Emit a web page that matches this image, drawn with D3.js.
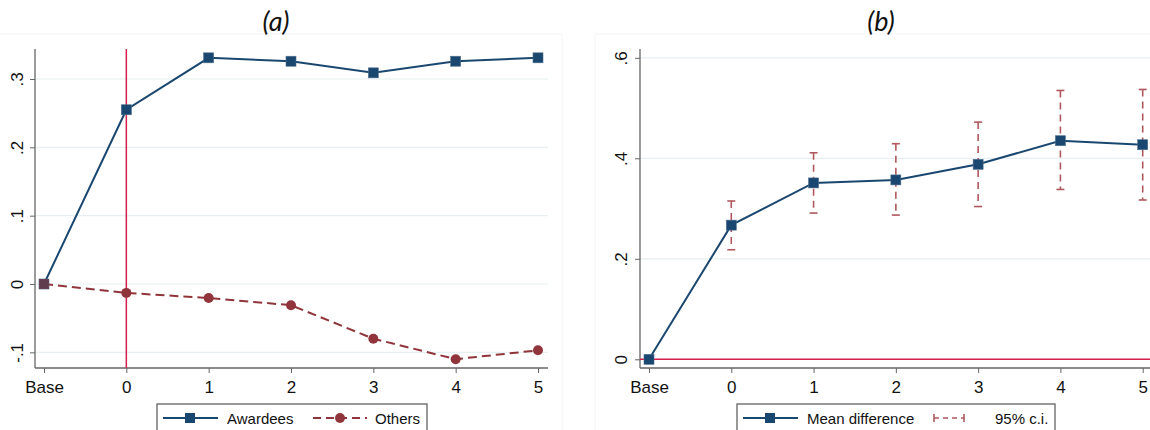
<!DOCTYPE html>
<html>
<head>
<meta charset="utf-8">
<script src="https://cdn.jsdelivr.net/npm/d3@7"></script>
<style>
  html, body { margin: 0; padding: 0; background: #fff; }
  svg { display: block; }
  text { font-family: "Liberation Sans", Arial, sans-serif; fill: #111; }
  text.title { font-family: "Lato", "Open Sans", sans-serif; font-style: italic; font-weight: 400; }
</style>
</head>
<body>
<svg id="chart" width="1150" height="430"></svg>
<script>
// Periods on the horizontal axis (shared by both panels)
const periods = ["Base", "0", "1", "2", "3", "4", "5"];

// Panel (a): outcome for awardees and others relative to base
const awardees = [0, 0.255, 0.331, 0.326, 0.309, 0.326, 0.331];
const others   = [0, -0.013, -0.0205, -0.031, -0.080, -0.110, -0.097];
const ticksA   = [-0.1, 0, 0.1, 0.2, 0.3];
const tickLabelsA = ["-.1", "0", ".1", ".2", ".3"];

// Panel (b): mean difference with 95% confidence interval
const meanDiff = [0, 0.267, 0.351, 0.357, 0.388, 0.435, 0.427];
const ciLower  = [null, 0.218, 0.291, 0.287, 0.304, 0.338, 0.317];
const ciUpper  = [null, 0.315, 0.411, 0.429, 0.472, 0.535, 0.537];
const ticksB   = [0, 0.2, 0.4, 0.6];
const tickLabelsB = ["0", ".2", ".4", ".6"];

const NAVY = "#1a476f", MAROON = "#90353b", CI = "#b0585e", REF = "#d41f4c";
const GRID = "#e6eff1", AXIS = "#666";

const svg = d3.select("#chart");

// faint graph-region frames
svg.append("rect").attr("x", -1).attr("y", 34).attr("width", 563).attr("height", 400)
  .attr("fill", "none").attr("stroke", "#f3f6f8");
svg.append("rect").attr("x", 595).attr("y", 34).attr("width", 560).attr("height", 400)
  .attr("fill", "none").attr("stroke", "#f3f6f8");

function panel(cfg) {
  const g = svg.append("g");
  const x = d3.scalePoint().domain(periods).range(cfg.xRange);
  const y = d3.scaleLinear().domain(cfg.yDomain).range([368, 49]);

  // gridlines
  g.selectAll(".grid").data(cfg.ticks).join("line")
    .attr("x1", cfg.axisX).attr("x2", cfg.axisRight)
    .attr("y1", d => y(d)).attr("y2", d => y(d))
    .attr("stroke", GRID).attr("stroke-width", 1.2);

  // y axis
  const yAxis = d3.axisLeft(y).tickValues(cfg.ticks)
    .tickFormat((d, i) => cfg.tickLabels[i]).tickSize(5);
  const ya = g.append("g").attr("transform", `translate(${cfg.axisX},0)`).call(yAxis);
  ya.select(".domain").remove();
  ya.selectAll(".tick line").attr("stroke", AXIS);
  ya.selectAll(".tick text")
    .style("font-size", "17px")
    .attr("text-anchor", "middle").attr("dy", null)
    .attr("transform", "rotate(-90)")
    .attr("x", 0).attr("y", -cfg.labelOffset)
    .attr("dominant-baseline", "middle");
  g.append("line").attr("x1", cfg.axisX).attr("x2", cfg.axisX).attr("y1", 49).attr("y2", 368)
    .attr("stroke", AXIS).attr("stroke-width", 1.3);

  // x axis
  const xAxis = d3.axisBottom(x).tickSize(5).tickPadding(8);
  const xa = g.append("g").attr("transform", "translate(0,368)").call(xAxis);
  xa.select(".domain").remove();
  xa.selectAll(".tick line").attr("stroke", AXIS);
  xa.selectAll(".tick text").style("font-size", "17px");
  g.append("line").attr("x1", cfg.axisX).attr("x2", cfg.axisRight).attr("y1", 368).attr("y2", 368)
    .attr("stroke", AXIS).attr("stroke-width", 1.3);

  // title
  g.append("text").attr("class", "title")
    .attr("x", cfg.titleX).attr("y", 31).attr("text-anchor", "middle")
    .style("font-size", "27px").text(cfg.title);

  return { g, x, y };
}

// ---------- Panel (a) ----------
const A = panel({
  xRange: [44, 538], yDomain: [-0.1229, 0.3439], axisX: 35, axisRight: 548,
  ticks: ticksA, tickLabels: tickLabelsA, title: "(a)", titleX: 276, labelOffset: 16
});

// reference line at period 0
A.g.append("line").attr("x1", A.x("0")).attr("x2", A.x("0")).attr("y1", 49).attr("y2", 368)
  .attr("stroke", REF).attr("stroke-width", 1.5);

const lineA = d3.line().x((d, i) => A.x(periods[i])).y(d => A.y(d));
A.g.append("path").datum(others).attr("d", lineA).attr("fill", "none")
  .attr("stroke", MAROON).attr("stroke-width", 2).attr("stroke-dasharray", "9,5");
A.g.selectAll(".oth").data(others).join("circle")
  .attr("cx", (d, i) => A.x(periods[i])).attr("cy", d => A.y(d)).attr("r", 5)
  .attr("fill", MAROON);

A.g.append("path").datum(awardees).attr("d", lineA).attr("fill", "none")
  .attr("stroke", NAVY).attr("stroke-width", 2);
A.g.selectAll(".awd").data(awardees).join("rect")
  .attr("x", (d, i) => A.x(periods[i]) - 5).attr("y", d => A.y(d) - 5)
  .attr("width", 10).attr("height", 10).attr("fill", NAVY)
  .attr("stroke", "#4d6f8f").attr("stroke-width", 0.6);
// shared base point: the others marker tints the awardees square
A.g.append("rect").attr("x", A.x("Base") - 5).attr("y", A.y(others[0]) - 5)
  .attr("width", 10).attr("height", 10).attr("fill", MAROON).attr("opacity", 0.6);

// legend (a)
const legA = svg.append("g");
legA.append("rect").attr("x", 157).attr("y", 404).attr("width", 270).attr("height", 40)
  .attr("fill", "#fff").attr("stroke", "#555").attr("stroke-width", 1.2);
legA.append("line").attr("x1", 163).attr("x2", 218).attr("y1", 418).attr("y2", 418)
  .attr("stroke", NAVY).attr("stroke-width", 2);
legA.append("rect").attr("x", 185).attr("y", 413).attr("width", 10).attr("height", 10).attr("fill", NAVY);
legA.append("text").attr("x", 227).attr("y", 423.5).style("font-size", "15px").text("Awardees");
legA.append("line").attr("x1", 313).attr("x2", 367).attr("y1", 418).attr("y2", 418)
  .attr("stroke", MAROON).attr("stroke-width", 2).attr("stroke-dasharray", "8,5");
legA.append("circle").attr("cx", 340).attr("cy", 418).attr("r", 5).attr("fill", MAROON);
legA.append("text").attr("x", 375).attr("y", 423.5).style("font-size", "15px").text("Others");

// ---------- Panel (b) ----------
const B = panel({
  xRange: [649, 1142.7], yDomain: [-0.0173, 0.6175], axisX: 640, axisRight: 1150,
  ticks: ticksB, tickLabels: tickLabelsB, title: "(b)", titleX: 881, labelOffset: 17
});

// reference line at zero
B.g.append("line").attr("x1", 640).attr("x2", 1150).attr("y1", B.y(0)).attr("y2", B.y(0))
  .attr("stroke", REF).attr("stroke-width", 1.5);

// confidence intervals
const ciData = periods.map((p, i) => ({ p, lo: ciLower[i], hi: ciUpper[i] })).filter(d => d.lo !== null);
const ciG = B.g.append("g").attr("stroke", CI).attr("stroke-width", 1.6);
ciG.selectAll(".ci").data(ciData).join("line")
  .attr("x1", d => B.x(d.p)).attr("x2", d => B.x(d.p))
  .attr("y1", d => B.y(d.hi)).attr("y2", d => B.y(d.lo))
  .attr("stroke-dasharray", "7,5");
ciG.selectAll(".capHi").data(ciData).join("line")
  .attr("x1", d => B.x(d.p) - 4).attr("x2", d => B.x(d.p) + 4)
  .attr("y1", d => B.y(d.hi)).attr("y2", d => B.y(d.hi));
ciG.selectAll(".capLo").data(ciData).join("line")
  .attr("x1", d => B.x(d.p) - 4).attr("x2", d => B.x(d.p) + 4)
  .attr("y1", d => B.y(d.lo)).attr("y2", d => B.y(d.lo));

const lineB = d3.line().x((d, i) => B.x(periods[i])).y(d => B.y(d));
B.g.append("path").datum(meanDiff).attr("d", lineB).attr("fill", "none")
  .attr("stroke", NAVY).attr("stroke-width", 2);
B.g.selectAll(".md").data(meanDiff).join("rect")
  .attr("x", (d, i) => B.x(periods[i]) - 5).attr("y", d => B.y(d) - 5)
  .attr("width", 10).attr("height", 10).attr("fill", NAVY)
  .attr("stroke", "#4d6f8f").attr("stroke-width", 0.6);

// legend (b)
const legB = svg.append("g");
legB.append("rect").attr("x", 737).attr("y", 404).attr("width", 318).attr("height", 40)
  .attr("fill", "#fff").attr("stroke", "#555").attr("stroke-width", 1.2);
legB.append("line").attr("x1", 743).attr("x2", 798).attr("y1", 418).attr("y2", 418)
  .attr("stroke", NAVY).attr("stroke-width", 2);
legB.append("rect").attr("x", 765).attr("y", 413).attr("width", 10).attr("height", 10).attr("fill", NAVY);
legB.append("text").attr("x", 807).attr("y", 423.5).style("font-size", "15px").text("Mean difference");
const ciLeg = legB.append("g").attr("stroke", CI).attr("stroke-width", 1.6);
ciLeg.append("line").attr("x1", 934).attr("x2", 964).attr("y1", 418).attr("y2", 418)
  .attr("stroke-dasharray", "5,4");
ciLeg.append("line").attr("x1", 934).attr("x2", 934).attr("y1", 414).attr("y2", 422);
ciLeg.append("line").attr("x1", 964).attr("x2", 964).attr("y1", 414).attr("y2", 422);
legB.append("text").attr("x", 995).attr("y", 423.5).style("font-size", "15px").text("95% c.i.");
</script>
</body>
</html>
